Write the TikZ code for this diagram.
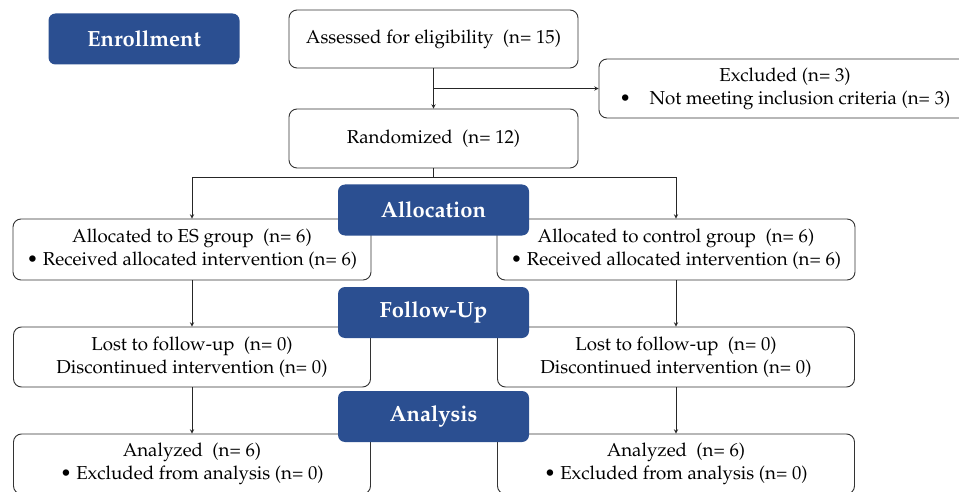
\documentclass[tikz,border=0pt]{standalone}
\usepackage[T1]{fontenc}
\usepackage{mathpazo}
\usepackage{tikz}
\definecolor{phaseblue}{RGB}{43,79,145}

\begin{document}
\begin{tikzpicture}[x=1pt, y=-1pt, >=stealth,
	box/.style={draw=black!80, rectangle, rounded corners=8pt, fill=white, align=center, inner sep=2pt, line width=0.9pt, font=\fontsize{18.7}{23}\selectfont},
	phase/.style={rectangle, rounded corners=7pt, fill=phaseblue, text=white, minimum width=191pt, minimum height=51pt, font=\fontsize{22}{24}\selectfont\bfseries},
	link/.style={line width=0.9pt, draw=black!85}]
	\useasboundingbox (0,0) rectangle (959,492);
	\clip (0,0) rectangle (959,492);

	\node[box, minimum width=289pt, minimum height=58pt] (assess) at (433.5,39) {Assessed for eligibility~ (n= 15)};
	\node[box, minimum width=289pt, minimum height=59pt, below of=assess, node distance=99.5pt] (rand) {Randomized~ (n= 12)};
	\node[box, minimum width=372pt, minimum height=59pt] (excl) at (785,88.5) {Excluded (n= 3)\\ \textbullet\quad Not meeting inclusion criteria (n= 3)};

	\node[box, minimum width=358pt, minimum height=61pt] (esgrp) at (192,249.5) {Allocated to ES group~ (n= 6)\\ \textbullet{} Received allocated intervention (n= 6)};
	\node[box, minimum width=358pt, minimum height=61pt, right of=esgrp, node distance=484pt] (ctrlgrp) {Allocated to control group~ (n= 6)\\ \textbullet{} Received allocated intervention (n= 6)};
	\node[box, minimum width=357pt, minimum height=60pt, below of=esgrp, node distance=107.5pt] (lostes) {Lost to follow-up~ (n= 0)\\ Discontinued intervention (n= 0)};
	\node[box, minimum width=357pt, minimum height=60pt, below of=ctrlgrp, node distance=107.5pt] (lostctrl) {Lost to follow-up~ (n= 0)\\ Discontinued intervention (n= 0)};
	\node[box, minimum width=357pt, minimum height=60pt, below of=lostes, node distance=107pt] (anaes) {Analyzed~ (n= 6)\\ \textbullet{} Excluded from analysis~(n= 0)};
	\node[box, minimum width=357pt, minimum height=60pt, below of=lostctrl, node distance=107pt] (anactrl) {Analyzed~ (n= 6)\\ \textbullet{} Excluded from analysis~(n= 0)};

	\coordinate (split) at (assess.south |- excl.west);
	\coordinate (fork) at ([yshift=-9pt] rand.south);
	\draw[->, link] (assess) -- (rand);
	\draw[->, link] (split) -- (excl.west);
	\draw[->, link] (rand.south) -- (fork) -| (esgrp.north);
	\draw[->, link] (fork) -| (ctrlgrp.north);
	\draw[->, link] (esgrp) -- (lostes);
	\draw[->, link] (ctrlgrp) -- (lostctrl);
	\draw[->, link] (lostes) -- (anaes);
	\draw[->, link] (lostctrl) -- (anactrl);

	\node[phase, left of=assess, node distance=289.5pt] (enroll) {Enrollment};
	\node[phase, below of=rand, node distance=71.5pt] (alloc) {Allocation};
	\node[phase, below of=alloc, node distance=102.5pt] (follow) {Follow-Up};
	\node[phase, below of=follow, node distance=104pt] (analysis) {Analysis};
\end{tikzpicture}
\end{document}
